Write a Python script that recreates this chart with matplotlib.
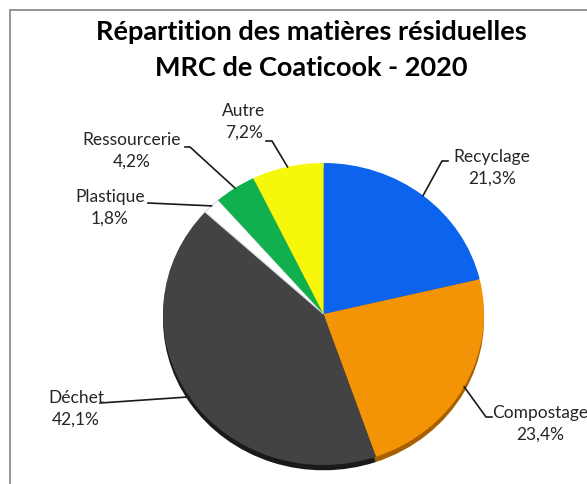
import matplotlib
matplotlib.use("Agg")
import matplotlib.pyplot as plt
from matplotlib.patches import Rectangle
from matplotlib.lines import Line2D
import numpy as np

categories = ["Recyclage", "Compostage", "Déchet", "Plastique", "Ressourcerie", "Autre"]
values = [21.3, 23.4, 42.1, 1.8, 4.2, 7.2]
pct_labels = ["21,3%", "23,4%", "42,1%", "1,8%", "4,2%", "7,2%"]
colors = ["#0b63ee", "#f39406", "#434343", "#ffffff", "#11b04f", "#f7f70c"]
shadow_colors = ["#0a3f99", "#a66000", "#1a1a1a", "#bbbbbb", "#0a6e32", "#a0a000"]

W, H = 587, 484
fig = plt.figure(figsize=(W / 100, H / 100), dpi=100)
fig.patch.set_facecolor("white")

# chart-area border
fig.add_artist(Rectangle((10 / W, -0.1), 1.2, (H - 10) / H + 0.1, transform=fig.transFigure,
                         fill=False, edgecolor="#8c8c8c", lw=1.3))

FONT = "Lato"
fig.text(311 / W, 1 - 32 / H, "Répartition des matières résiduelles", ha="center", va="center",
         fontsize=19.5, fontweight="bold", family=FONT)
fig.text(311 / W, 1 - 68 / H, "MRC de Coaticook - 2020", ha="center", va="center",
         fontsize=19.5, fontweight="bold", family=FONT)

# pie axes (slightly elliptical like the tilted reference)
cx, cy, rx, ry = 323.5, 314, 160.5, 151
ax = fig.add_axes([(cx - rx) / W, 1 - (cy + ry) / H, 2 * rx / W, 2 * ry / H])
sh, _ = ax.pie(values, colors=shadow_colors, startangle=90, counterclock=False, radius=1.0,
               center=(0, -0.035), wedgeprops=dict(linewidth=0))
for s in sh:
    s.set_clip_on(False)
wedges, _ = ax.pie(values, colors=colors, startangle=90, counterclock=False, radius=1.0,
                   wedgeprops=dict(linewidth=0))
for w in wedges:
    w.set_clip_on(False)
wedges[3].set_edgecolor("#d9d9d9")
wedges[3].set_linewidth(0.8)
ax.set_xlim(-1, 1)
ax.set_ylim(-1, 1)
ax.set_aspect("auto")
ax.axis("off")

# label placement (image pixels): text centre, leader path (label side -> knee)
layout = {
    "Recyclage": ((492, 168), [(448, 161), (442, 161)]),
    "Compostage": ((540, 424), [(492, 417), (486, 417)]),
    "Déchet": ((76, 409), [(100, 403)]),
    "Plastique": ((110, 208), [(148, 203)]),
    "Ressourcerie": ((132, 151), [(185, 147), (190, 147)]),
    "Autre": ((244, 122), [(266, 141), (272, 141)]),
}

def fp(p):
    return (p[0] / W, 1 - p[1] / H)

for w, cat, pct in zip(wedges, categories, pct_labels):
    (tx, ty), path = layout[cat]
    fig.text(tx / W, 1 - ty / H, f"{cat}\n{pct}", ha="center", va="center",
             fontsize=12.5, family=FONT, color="#262626", linespacing=1.4)
    mid = np.deg2rad((w.theta1 + w.theta2) / 2)
    px, py = np.cos(mid), np.sin(mid)
    disp = ax.transData.transform((px, py))
    end = fig.transFigure.inverted().transform(disp)
    pts = [fp(p) for p in path] + [tuple(end)]
    xs, ys = zip(*pts)
    fig.add_artist(Line2D(xs, ys, transform=fig.transFigure, color="#1a1a1a", lw=1.2))

fig.savefig("out.png", dpi=100)
